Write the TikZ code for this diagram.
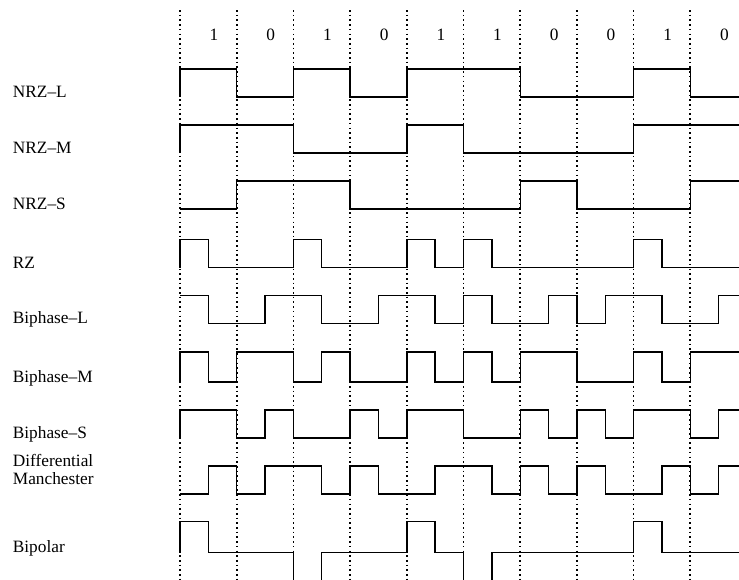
\documentclass[tikz,border=0pt]{standalone}
\usepackage{fontspec}
\setmainfont{Liberation Serif}
\newcommand\pitch{56.7}
\newcommand\halfp{28.35}
% #1 low y, #2 amplitude, #3 start level, #4 list of half-bit levels
\newcommand\sigwave[4]{%
  \draw[sigline] (180,{#1-(#3)*#2}) foreach[count=\i from 0] \l in {#4} {
    -- ({180+\i*\halfp},{#1-(\l)*#2}) -- ({180+(\i+1)*\halfp},{#1-(\l)*#2}) };
}
\begin{document}
\begin{tikzpicture}[x=1pt,y=-1pt,
  sigline/.style={line width=1.4pt, line join=miter},
  gridline/.style={line width=1.7pt, dash pattern=on 1.6pt off 3.1pt},
  lbl/.style={anchor=base west, font=\fontsize{17.3}{18}\selectfont, inner sep=0pt},
  bitlbl/.style={anchor=base, font=\fontsize{17.3}{18}\selectfont, inner sep=0pt}]
\useasboundingbox (0,0) rectangle (739,579);
\clip (0,0) rectangle (739,579);
% dotted bit boundaries
\foreach \k in {0,...,9}
  \draw[gridline] ({180+\k*\pitch},10) -- ({180+\k*\pitch},580);
% bit values
\foreach \b [count=\k from 0] in {1,0,1,0,1,1,0,0,1,0}
  \node[bitlbl] (bit\k) at ({180+(\k+0.6)*\pitch},40.7) {\b};
% labels
\node[lbl] (lnrzl) at (12.7,97) {NRZ–L};
\node[lbl] (lnrzm) at (12.7,153) {NRZ–M};
\node[lbl] (lnrzs) at (12.7,209) {NRZ–S};
\node[lbl] (lrz) at (12.7,268) {RZ};
\node[lbl] (lbil) at (12.7,323.3) {Biphase–L};
\node[lbl] (lbim) at (12.7,382) {Biphase–M};
\node[lbl] (lbis) at (12.7,438) {Biphase–S};
\node[lbl] (ldiff) at (12.7,466) {Differential};
\node[lbl] (lman) at (12.7,484) {Manchester};
\node[lbl] (lbip) at (12.7,552.7) {Bipolar};
% waveforms
\sigwave{97}{28}{0}{1,1,0,0,1,1,0,0,1,1,1,1,0,0,0,0,1,1,0,0}
\sigwave{153}{28}{0}{1,1,1,1,0,0,0,0,1,1,0,0,0,0,0,0,1,1,1,1}
\sigwave{209}{28}{0}{0,0,1,1,1,1,0,0,0,0,0,0,1,1,0,0,0,0,1,1}
\sigwave{267.7}{28.4}{0}{1,0,0,0,1,0,0,0,1,0,1,0,0,0,0,0,1,0,0,0}
\sigwave{323.3}{28}{1}{1,0,0,1,1,0,0,1,1,0,1,0,0,1,0,1,1,0,0,1}
\sigwave{382}{30}{0}{1,0,1,1,0,1,0,0,1,0,1,0,1,1,0,0,1,0,1,1}
\sigwave{438}{28}{0}{1,1,0,1,0,0,1,0,1,1,0,0,1,0,1,0,1,1,0,1}
\sigwave{494}{28}{0}{0,1,0,1,1,0,1,0,0,1,1,0,1,0,1,0,0,1,0,1}
\sigwave{552.7}{31}{0}{1,0,0,0,-1,0,0,0,1,0,-1,0,0,0,0,0,1,0,0,0}
\end{tikzpicture}
\end{document}
